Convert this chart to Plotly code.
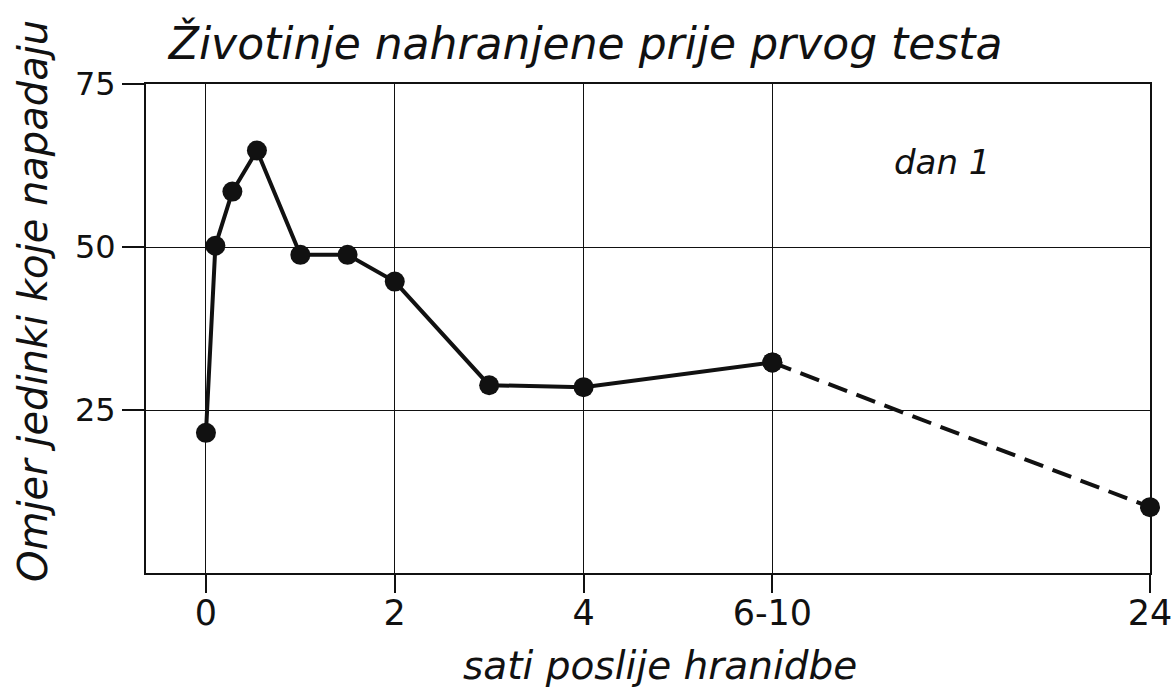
import plotly.graph_objects as go

# --- data ---
x_pos = [0, 0.1, 0.28, 0.54, 1.0, 1.5, 2.0, 3.0, 4.0, 6.0, 10.0]   # axis positions
y_vals = [21.5, 50.2, 58.5, 64.8, 48.8, 48.8, 44.7, 28.8, 28.5, 32.3, 10.1]
x_tick_vals = [0, 2, 4, 6, 10]
x_tick_text = ["0", "2", "4", "6-10", "24"]
y_tick_vals = [25, 50, 75]

title_text = "Životinje nahranjene prije prvog testa"
x_title = "sati poslije hranidbe"
y_title = "Omjer jedinki koje napadaju"
label_text = "dan 1"

FONT = "DejaVu Sans"
INK = "#111111"
W, H = 1176, 693
ML, MR, MT, MB = 146, 26, 84, 120

fig = go.Figure()

# solid part (0 .. 6-10)
fig.add_trace(go.Scatter(
    x=x_pos[:10], y=y_vals[:10], mode="lines+markers",
    line=dict(color=INK, width=4),
    marker=dict(color=INK, size=20),
    cliponaxis=False, showlegend=False,
))
# dashed part (6-10 .. 24)
fig.add_trace(go.Scatter(
    x=x_pos[9:], y=y_vals[9:], mode="lines+markers",
    line=dict(color=INK, width=4, dash="20px,10px"),
    marker=dict(color=INK, size=20),
    cliponaxis=False, showlegend=False,
))

fig.add_annotation(
    x=7.8, y=63, xref="x", yref="y", text=label_text, showarrow=False,
    font=dict(family=FONT, size=34, color=INK, style="italic"),
)
pw, ph = W - ML - MR, H - MT - MB
# y axis title (placed as in the reference, slightly above the plot centre)
fig.add_annotation(
    x=(33 - ML) / pw, y=(H - MB - 301) / ph, xref="paper", yref="paper",
    xanchor="center", yanchor="middle", textangle=-90,
    text=y_title, showarrow=False,
    font=dict(family=FONT, size=40, color=INK, style="italic"),
)
# x axis title
fig.add_annotation(
    x=(660 - ML) / pw, y=(H - MB - 665) / ph, xref="paper", yref="paper",
    xanchor="center", yanchor="middle",
    text=x_title, showarrow=False,
    font=dict(family=FONT, size=39, color=INK, style="italic"),
)

fig.update_layout(
    width=W, height=H,
    paper_bgcolor="white", plot_bgcolor="white",
    margin=dict(l=ML, r=MR, t=MT, b=MB, autoexpand=False),
    title=dict(
        text=title_text, x=0.498, xanchor="center", y=0.937, yanchor="middle",
        font=dict(family=FONT, size=44, color=INK, style="italic"),
    ),
    font=dict(family=FONT, color=INK),
)

fig.update_xaxes(
    range=[-0.635, 10], tickvals=x_tick_vals, ticktext=x_tick_text,
    ticks="outside", ticklen=18, tickwidth=1.5, tickcolor=INK,
    ticklabelstandoff=-10,
    tickfont=dict(family=FONT, size=35, color=INK),
    showgrid=True, gridcolor=INK, gridwidth=1,
    showline=True, linecolor=INK, linewidth=2, mirror=True,
    zeroline=False, automargin=False,
)
fig.update_yaxes(
    range=[0, 75], tickvals=y_tick_vals,
    ticks="outside", ticklen=22, tickwidth=1.5, tickcolor=INK,
    tickfont=dict(family=FONT, size=32, color=INK),
    showgrid=True, gridcolor=INK, gridwidth=1,
    showline=True, linecolor=INK, linewidth=2, mirror=True,
    zeroline=False, automargin=False,
)

fig.write_html("out.html", config={"displayModeBar": False},
               post_script="document.body.style.margin='0';")
